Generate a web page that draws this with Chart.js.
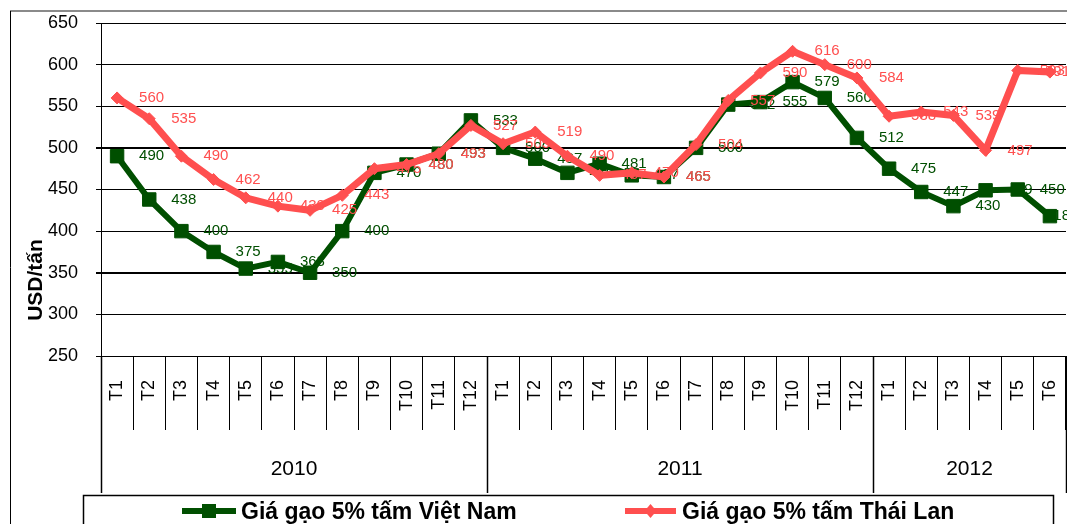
<!DOCTYPE html>
<html><head><meta charset="utf-8">
<script src="https://cdn.jsdelivr.net/npm/chart.js@4.4.1/dist/chart.umd.min.js"></script>
<style>html,body{margin:0;padding:0;background:#fff;overflow:hidden}#wrap{width:1067px;height:524px;position:relative}</style>
</head><body><div id="wrap"><canvas id="c"></canvas></div>
<script>
// ---- data ----
const months = ['T1','T2','T3','T4','T5','T6','T7','T8','T9','T10','T11','T12',
                'T1','T2','T3','T4','T5','T6','T7','T8','T9','T10','T11','T12',
                'T1','T2','T3','T4','T5','T6'];
const years = ['2010','2011','2012'];
const yearSizes = [12,12,6];
const vietnam = [490,438,400,375,355,363,350,400,470,480,493,533,
                 500,487,470,481,467,465,500,552,555,579,560,512,
                 475,447,430,449,450,418];
const thailand = [560,535,490,462,440,430,425,443,475,480,493,527,
                  505,519,490,467,470,465,504,557,590,616,600,584,
                  538,543,539,497,593,591];
const seriesNames = ['Giá gạo 5% tấm Việt Nam','Giá gạo 5% tấm Thái Lan'];
const yTitle = 'USD/tấn';
const yTicks = {min:250, max:650, step:50};

const GREEN = '#004f00', RED = '#ff4f4f';
const FONT = '"Liberation Sans", Arial, sans-serif';

const labelPlugin = {
  id:'valueLabels',
  beforeDatasetDraw(chart, args){
    const ctx = chart.ctx, ds = chart.data.datasets[args.index];
    ctx.save();
    ctx.font = '15px ' + FONT;
    ctx.fillStyle = ds.labelColor;
    ctx.textAlign = 'left';
    ctx.textBaseline = 'middle';
    args.meta.data.forEach((pt, i) => {
      const txt = String(ds.data[i]);
      const w = ctx.measureText(txt).width;
      let x = pt.x + 22;
      if (x + w > chart.width + 3) x = chart.width + 3 - w;
      ctx.fillText(txt, x, pt.y);
    });
    ctx.restore();
  }
};

const decoPlugin = {
  id:'deco',
  afterDraw(chart){
    const ctx = chart.ctx, xs = chart.scales.x, area = chart.chartArea;
    ctx.save();
    // outer frame
    ctx.strokeStyle = '#8a8a8a'; ctx.lineWidth = 2;
    ctx.beginPath(); ctx.moveTo(10, 11); ctx.lineTo(chart.width, 11); ctx.stroke();
    ctx.strokeStyle = '#000'; ctx.lineWidth = 1;
    ctx.beginPath(); ctx.moveTo(10.5, 11); ctx.lineTo(10.5, chart.height); ctx.stroke();
    // year separators
    const bottomY = 493;
    let idx = 0;
    const bounds = [area.left];
    yearSizes.forEach(n => {
      idx += n;
      const b = idx >= months.length ? area.right :
        (xs.getPixelForValue(idx-1) + xs.getPixelForValue(idx)) / 2;
      bounds.push(b);
    });
    ctx.strokeStyle = '#000'; ctx.lineWidth = 1.5;
    bounds.forEach(b => {
      ctx.beginPath(); ctx.moveTo(Math.round(b)+0.5, area.bottom); ctx.lineTo(Math.round(b)+0.5, bottomY); ctx.stroke();
    });
    ctx.fillStyle = '#000';
    ctx.font = '21px ' + FONT;
    ctx.textAlign = 'center'; ctx.textBaseline = 'alphabetic';
    years.forEach((y, i) => {
      ctx.fillText(y, (bounds[i] + bounds[i+1]) / 2, 475);
    });
    // y title
    ctx.save();
    ctx.translate(42, 280);
    ctx.rotate(-Math.PI/2);
    ctx.font = 'bold 21px ' + FONT;
    ctx.textAlign = 'center'; ctx.textBaseline = 'alphabetic';
    ctx.fillText(yTitle, 0, 0);
    ctx.restore();
    // legend box
    ctx.strokeStyle = '#000'; ctx.lineWidth = 1.5;
    ctx.strokeRect(83.5, 495.5, 970, 40);
    const legendItems = [
      {x0:182, x1:236, tx:241, color:GREEN, marker:'rect', text:seriesNames[0]},
      {x0:625, x1:676, tx:682, color:RED, marker:'diamond', text:seriesNames[1]}
    ];
    legendItems.forEach(it => {
      const ly = 511;
      ctx.strokeStyle = it.color; ctx.lineWidth = 6;
      ctx.beginPath(); ctx.moveTo(it.x0, ly); ctx.lineTo(it.x1, ly); ctx.stroke();
      ctx.fillStyle = it.color;
      const cx = (it.x0 + it.x1) / 2;
      if (it.marker === 'rect') ctx.fillRect(cx-7, ly-7, 14, 14);
      else { ctx.beginPath(); ctx.moveTo(cx, ly-7); ctx.lineTo(cx+6, ly); ctx.lineTo(cx, ly+7); ctx.lineTo(cx-6, ly); ctx.closePath(); ctx.fill(); }
      ctx.fillStyle = '#000';
      ctx.font = 'bold 23px ' + FONT;
      ctx.textAlign = 'left'; ctx.textBaseline = 'alphabetic';
      ctx.fillText(it.text, it.tx, 519);
    });
    ctx.restore();
  }
};

new Chart(document.getElementById('c'), {
  type:'line',
  data:{
    labels: months,
    datasets:[
      {label:seriesNames[0], data:vietnam, borderColor:GREEN, backgroundColor:GREEN, labelColor:'#004f00',
       borderWidth:6, pointStyle:'rect', pointRadius:9.5, pointBorderWidth:1, tension:0, order:2},
      {label:seriesNames[1], data:thailand, borderColor:RED, backgroundColor:RED, labelColor:'#ff4f4f',
       borderWidth:7, pointStyle:'rectRot', pointRadius:6, pointBorderWidth:1, tension:0, order:1}
    ]
  },
  options:{
    responsive:true, maintainAspectRatio:false, animation:false, devicePixelRatio:1,
    layout:{autoPadding:false, padding:{left:0, top:23, right:1, bottom:94}},
    plugins:{legend:{display:false}, tooltip:{enabled:false}},
    scales:{
      x:{
        type:'category', offset:true,
        grid:{offset:true, drawOnChartArea:false, drawTicks:true, tickLength:74, color:'#000', lineWidth:1},
        border:{display:true, color:'#000', width:1},
        ticks:{autoSkip:false, minRotation:90, maxRotation:90, padding:-50, color:'#000',
               font:{family:FONT, size:18}},
        afterFit(s){ s.height = 74; s.paddingLeft = 0; s.paddingRight = 0; }
      },
      y:{
        min:yTicks.min, max:yTicks.max,
        ticks:{stepSize:yTicks.step, padding:18, color:'#000', font:{family:FONT, size:18}},
        grid:{color:'#000', tickLength:5, lineWidth:(c)=> (c.tick && (c.tick.value===500 || c.tick.value===350)) ? 2 : 1},
        border:{display:true, color:'#000', width:1},
        afterFit(s){ s.width = 101; s.paddingTop = 0; s.paddingBottom = 0; }
      }
    }
  },
  plugins:[labelPlugin, decoPlugin]
});
</script></body></html>
